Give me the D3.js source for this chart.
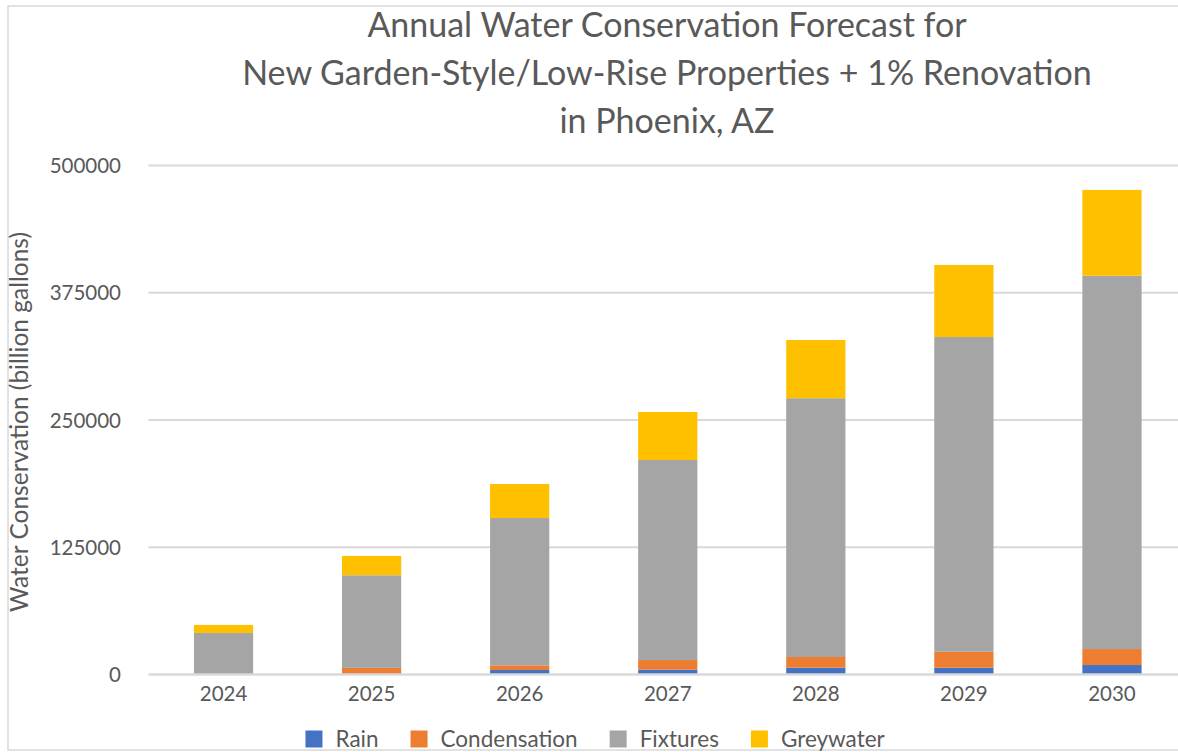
<!DOCTYPE html>
<html>
<head>
<meta charset="utf-8">
<script src="https://cdn.jsdelivr.net/npm/d3@7"></script>
<style>
  html, body { margin: 0; padding: 0; background: #fff; }
  svg { display: block; font-family: Lato, "Open Sans", sans-serif; }
</style>
</head>
<body>
<svg id="chart" width="1178" height="752"></svg>
<script>
// Forecast years and stacked components (gallons saved per year)
const years = ["2024", "2025", "2026", "2027", "2028", "2029", "2030"];
const rain         = [0,     0,     4400,   4700,   6700,   6700,   9300];
const condensation = [0,     6500,  4600,   9500,   10500,  15700,  15700];
const fixtures     = [40800, 91000, 144700, 196500, 254200, 309100, 366700];
const greywater    = [7900,  19000, 33400,  47200,  57200,  70800,  84300];
const seriesNames  = ["Rain", "Condensation", "Fixtures", "Greywater"];
const yTicks       = [0, 125000, 250000, 375000, 500000];
const titleLines   = [
  "Annual Water Conservation Forecast for",
  "New Garden-Style/Low-Rise Properties + 1% Renovation",
  "in Phoenix, AZ"
];
const yAxisTitle = "Water Conservation (billion gallons)";

const colors = {
  Rain: "#4472c4",
  Condensation: "#ed7d31",
  Fixtures: "#a5a5a5",
  Greywater: "#ffc000"
};
const textColor = "#595959";
const gridColor = "#d9d9d9";

const svg = d3.select("#chart");

// Chart frame
svg.append("rect")
  .attr("x", 8).attr("y", 6)
  .attr("width", 1200).attr("height", 744)
  .attr("fill", "none").attr("stroke", gridColor).attr("stroke-width", 1.5);

// Plot area
const plot = { left: 149.5, right: 1186, top: 165.5, bottom: 674.5 };

const x = d3.scaleBand()
  .domain(years)
  .range([plot.left, plot.right])
  .paddingInner(0.6)
  .paddingOuter(0.3);

const y = d3.scaleLinear()
  .domain([0, 500000])
  .range([plot.bottom, plot.top]);

// Gridlines
svg.append("g")
  .selectAll("line")
  .data(yTicks.filter(d => d > 0))
  .join("line")
  .attr("x1", plot.left - 1).attr("x2", 1178)
  .attr("y1", d => y(d)).attr("y2", d => y(d))
  .attr("stroke", gridColor).attr("stroke-width", 2);

// Stack data
const rows = years.map((yr, i) => ({
  year: yr,
  Rain: rain[i],
  Condensation: condensation[i],
  Fixtures: fixtures[i],
  Greywater: greywater[i]
}));
const stacked = d3.stack().keys(seriesNames)(rows);

svg.append("g")
  .selectAll("g")
  .data(stacked)
  .join("g")
  .attr("fill", d => colors[d.key])
  .selectAll("rect")
  .data(d => d)
  .join("rect")
  .attr("x", d => x(d.data.year))
  .attr("width", x.bandwidth())
  .attr("y", d => y(d[1]))
  .attr("height", d => Math.max(0, y(d[0]) - y(d[1])));

// Category axis line
svg.append("line")
  .attr("x1", plot.left - 1).attr("x2", 1178)
  .attr("y1", y(0)).attr("y2", y(0))
  .attr("stroke", gridColor).attr("stroke-width", 2.5);

// Y axis tick labels
const yAxis = d3.axisLeft(y).tickValues(yTicks).tickSize(0).tickPadding(0).tickFormat(d3.format("d"));
const yg = svg.append("g")
  .attr("transform", `translate(121,0)`)
  .call(yAxis);
yg.select(".domain").remove();
yg.selectAll("text")
  .attr("fill", textColor)
  .attr("font-size", 20.5)
  .attr("font-family", "Lato, sans-serif")
  .attr("dy", "0.35em");

// X axis labels
const xAxis = d3.axisBottom(x).tickSize(0).tickPadding(0);
const xg = svg.append("g")
  .attr("transform", `translate(0,${plot.bottom + 26})`)
  .call(xAxis);
xg.select(".domain").remove();
xg.selectAll("text")
  .attr("fill", textColor)
  .attr("font-size", 20.5)
  .attr("font-family", "Lato, sans-serif")
  .attr("dy", 0);

// Y axis title
svg.append("text")
  .attr("transform", `translate(28,${(plot.top + plot.bottom) / 2 + 2}) rotate(-90)`)
  .attr("text-anchor", "middle")
  .attr("fill", textColor)
  .attr("font-size", 24.5)
  .text(yAxisTitle);

// Title
svg.append("g")
  .selectAll("text")
  .data(titleLines)
  .join("text")
  .attr("x", 667)
  .attr("y", (d, i) => 37 + i * 48)
  .attr("text-anchor", "middle")
  .attr("fill", textColor)
  .attr("font-size", 34)
  .text(d => d);

// Legend, centred below the axis
const legend = svg.append("g");
const swatch = 17, gapText = 13, gapItem = 32;
const items = legend.selectAll("g")
  .data(seriesNames)
  .join("g");
items.append("rect")
  .attr("width", swatch).attr("height", swatch)
  .attr("y", -swatch / 2)
  .attr("fill", d => colors[d]);
items.append("text")
  .attr("x", swatch + gapText)
  .attr("dy", "0.35em")
  .attr("fill", textColor)
  .attr("font-size", 22.5)
  .text(d => d);
let widths = [];
items.each(function() { widths.push(this.getBBox().width); });
const total = d3.sum(widths) + gapItem * (widths.length - 1);
let cx = 595.5 - total / 2;
items.attr("transform", (d, i) => {
  const t = `translate(${cx},739)`;
  cx += widths[i] + gapItem;
  return t;
});
</script>
</body>
</html>
